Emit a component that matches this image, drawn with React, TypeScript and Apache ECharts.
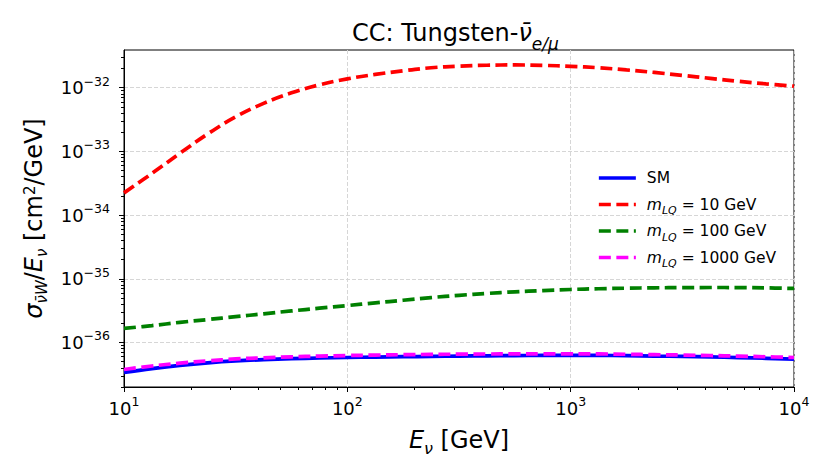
import React, { useEffect, useRef } from "react";
import * as echarts from "echarts";

// ---- data ----
const energies = [10, 13.34, 17.78, 23.71, 31.62, 42.17, 56.23, 74.99, 100, 133.4, 177.8, 237.1, 316.2, 421.7, 562.3, 749.9, 1000, 1334, 1778, 2371, 3162, 4217, 5623, 7499, 10000];
const smValues = [3.39e-37, 3.89e-37, 4.37e-37, 4.79e-37, 5.13e-37, 5.37e-37, 5.56e-37, 5.7e-37, 5.81e-37, 5.9e-37, 5.98e-37, 6.05e-37, 6.11e-37, 6.17e-37, 6.22e-37, 6.27e-37, 6.28e-37, 6.27e-37, 6.21e-37, 6.12e-37, 6.04e-37, 5.93e-37, 5.79e-37, 5.64e-37, 5.47e-37];
const lq10Values = [2.23e-34, 4.51e-34, 9.3e-34, 1.88e-33, 3.48e-33, 5.67e-33, 8.29e-33, 1.107e-32, 1.375e-32, 1.612e-32, 1.842e-32, 2.053e-32, 2.175e-32, 2.247e-32, 2.272e-32, 2.239e-32, 2.16e-32, 2.053e-32, 1.896e-32, 1.732e-32, 1.56e-32, 1.4e-32, 1.26e-32, 1.147e-32, 1.056e-32];
const lq100Values = [1.66e-36, 1.84e-36, 2.07e-36, 2.29e-36, 2.54e-36, 2.82e-36, 3.13e-36, 3.45e-36, 3.8e-36, 4.19e-36, 4.6e-36, 5.07e-36, 5.5e-36, 5.89e-36, 6.24e-36, 6.53e-36, 6.79e-36, 6.97e-36, 7.11e-36, 7.21e-36, 7.26e-36, 7.29e-36, 7.28e-36, 7.19e-36, 7.05e-36];
const lq1000Values = [3.77e-37, 4.27e-37, 4.73e-37, 5.15e-37, 5.51e-37, 5.75e-37, 5.96e-37, 6.11e-37, 6.24e-37, 6.34e-37, 6.43e-37, 6.5e-37, 6.55e-37, 6.59e-37, 6.62e-37, 6.64e-37, 6.64e-37, 6.61e-37, 6.53e-37, 6.44e-37, 6.35e-37, 6.24e-37, 6.11e-37, 5.96e-37, 5.81e-37];

const seriesNames = ["SM", "mLQ10", "mLQ100", "mLQ1000"];
const legendMasses = ["", "10", "100", "1000"];
const xMajorTicks = [10, 100, 1000, 10000];
const yMajorTicks = [1e-36, 1e-35, 1e-34, 1e-33, 1e-32];
const xRange = [10, 10000];
const yRange = [2.0e-37, 3.9e-32];

const FONT = "DejaVu Sans";
const lg = (v: number) => Math.log10(v);

function minorTicks(range: number[]) {
  const out: number[] = [];
  const lo = Math.floor(lg(range[0]));
  const hi = Math.ceil(lg(range[1]));
  for (let e = lo; e < hi; e++) {
    for (let k = 2; k <= 9; k++) {
      const v = lg(k) + e;
      if (v >= lg(range[0]) && v <= lg(range[1])) out.push(v);
    }
  }
  return out;
}

const expLabel = (v: number) => {
  const e = Math.round(v);
  const s = e < 0 ? "\u2212" + -e : String(e);
  return `{b|10}{e|${s}}`;
};

const tickRich = {
  b: { fontFamily: FONT, fontSize: 18, color: "#000", verticalAlign: "middle" },
  e: { fontFamily: FONT, fontSize: 12.5, color: "#000", verticalAlign: "middle", padding: [0, 0, 13, 0] },
};

export default function App() {
  const ref = useRef<HTMLDivElement>(null);
  useEffect(() => {
    if (!ref.current) return;
    const chart = echarts.init(ref.current, null, { renderer: "svg" });
    const colors = ["#0000ff", "#ff0000", "#008000", "#ff00ff"];
    const valueSets = [smValues, lq10Values, lq100Values, lq1000Values];
    const series = valueSets.map((vals, i) => ({
      name: seriesNames[i],
      type: "line",
      xAxisIndex: 0,
      yAxisIndex: 0,
      data: energies.map((E, j) => [lg(E), lg(vals[j])]),
      showSymbol: false,
      symbol: "none",
      smooth: 0.4,
      color: colors[i],
      lineStyle: { color: colors[i], width: 3.7, type: i === 0 ? "solid" : [12, 5.5] },
      z: 2 + i,
    }));

    const gridLine = { show: true, lineStyle: { color: "#d6d6d6", width: 1, type: [4, 2] } };
    const txt = { fontFamily: FONT, color: "#000", fontWeight: "normal", verticalAlign: "middle" };

    chart.setOption({
      animation: false,
      backgroundColor: "#fff",
      title: {
        text: "{a|CC: Tungsten-}{v|\u03BD\u0304}{s|e/\u03BC}",
        left: 352,
        top: 13,
        padding: 0,
        textStyle: {
          fontWeight: "normal",
          rich: {
            a: { ...txt, fontSize: 24 },
            v: { ...txt, fontSize: 24, fontStyle: "italic" },
            s: { ...txt, fontSize: 17, fontStyle: "italic", padding: [22, 0, 0, 0] },
          },
        },
      },
      legend: {
        orient: "vertical",
        left: 597,
        top: 164,
        padding: 0,
        itemWidth: 37,
        itemHeight: 14,
        itemGap: -1.5,
        selectedMode: false,
        itemStyle: { opacity: 0 },
        lineStyle: { width: 3.7 },
        data: seriesNames,
        formatter: (name: string) => {
          const i = seriesNames.indexOf(name);
          if (i === 0) return "{f|SM}";
          return `{m|m}{sub|LQ}{n| = ${legendMasses[i]} GeV}`;
        },
        textStyle: {
          fontFamily: FONT,
          fontSize: 15.5,
          color: "#000",
          rich: {
            f: { ...txt, fontSize: 15.5, lineHeight: 14, padding: [6, 0, 6, 6] },
            m: { ...txt, fontSize: 15.5, fontStyle: "italic", lineHeight: 14, padding: [6, 0, 6, 6] },
            sub: { ...txt, fontSize: 11, fontStyle: "italic", lineHeight: 10, padding: [12, 0, 0, 0] },
            n: { ...txt, fontSize: 15.5, lineHeight: 14, padding: [6, 0, 6, 0] },
          },
        },
      },
      grid: {
        left: 124,
        right: 36,
        top: 50,
        bottom: 88,
        show: true,
        borderColor: "#000",
        borderWidth: 1,
        backgroundColor: "transparent",
      },
      xAxis: [
        {
          type: "value",
          min: lg(xRange[0]),
          max: lg(xRange[1]),
          position: "bottom",
          axisLine: { show: true, onZero: false, lineStyle: { color: "#000", width: 1 } },
          axisTick: { show: true, inside: false, length: 5, lineStyle: { color: "#000", width: 1 }, customValues: xMajorTicks.map(lg) },
          axisLabel: {
            show: true,
            margin: 8,
            customValues: xMajorTicks.map(lg),
            formatter: expLabel,
            rich: tickRich,
          },
          splitLine: gridLine,
          name: "{i|E}{s|\u03BD}{n| [GeV]}",
          nameLocation: "middle",
          nameGap: 36,
          nameTextStyle: {
            rich: {
              i: { ...txt, fontSize: 24, fontStyle: "italic" },
              s: { ...txt, fontSize: 16, fontStyle: "italic", padding: [17, 0, 0, 0] },
              n: { ...txt, fontSize: 24 },
            },
          },
        },
        {
          type: "value",
          min: lg(xRange[0]),
          max: lg(xRange[1]),
          position: "bottom",
          axisLine: { show: false, onZero: false },
          axisTick: { show: true, inside: false, length: 3, lineStyle: { color: "#000", width: 1 }, customValues: minorTicks(xRange) },
          axisLabel: { show: false },
          splitLine: { show: false },
        },
      ],
      yAxis: [
        {
          type: "value",
          min: lg(yRange[0]),
          max: lg(yRange[1]),
          position: "left",
          axisLine: { show: true, onZero: false, lineStyle: { color: "#000", width: 1 } },
          axisTick: { show: true, inside: false, length: 5, lineStyle: { color: "#000", width: 1 }, customValues: yMajorTicks.map(lg) },
          axisLabel: {
            show: true,
            margin: 14,
            customValues: yMajorTicks.map(lg),
            formatter: expLabel,
            rich: tickRich,
          },
          splitLine: gridLine,
          name: "{s|\u03C3}{b|\u03BD\u0304W}{n|/}{s|E}{b|\u03BD}{n| [cm}{p|2}{n|/GeV]}",
          nameLocation: "middle",
          nameRotate: 90,
          nameGap: 72,
          nameTextStyle: {
            padding: [0, 0, 0, 0],
            rich: {
              s: { ...txt, fontSize: 24, fontStyle: "italic" },
              b: { ...txt, fontSize: 15, fontStyle: "italic", padding: [16, 0, 0, 0] },
              n: { ...txt, fontSize: 24 },
              p: { ...txt, fontSize: 15, padding: [0, 0, 9, 0] },
            },
          },
        },
        {
          type: "value",
          min: lg(yRange[0]),
          max: lg(yRange[1]),
          position: "left",
          axisLine: { show: false, onZero: false },
          axisTick: { show: true, inside: false, length: 3, lineStyle: { color: "#000", width: 1 }, customValues: minorTicks(yRange) },
          axisLabel: { show: false },
          splitLine: { show: false },
        },
      ],
      series,
    });
    return () => chart.dispose();
  }, []);
  return (
    <div
      ref={ref}
      style={{ position: "fixed", left: 0, top: 0, width: 830, height: 475, background: "#fff" }}
    />
  );
}
